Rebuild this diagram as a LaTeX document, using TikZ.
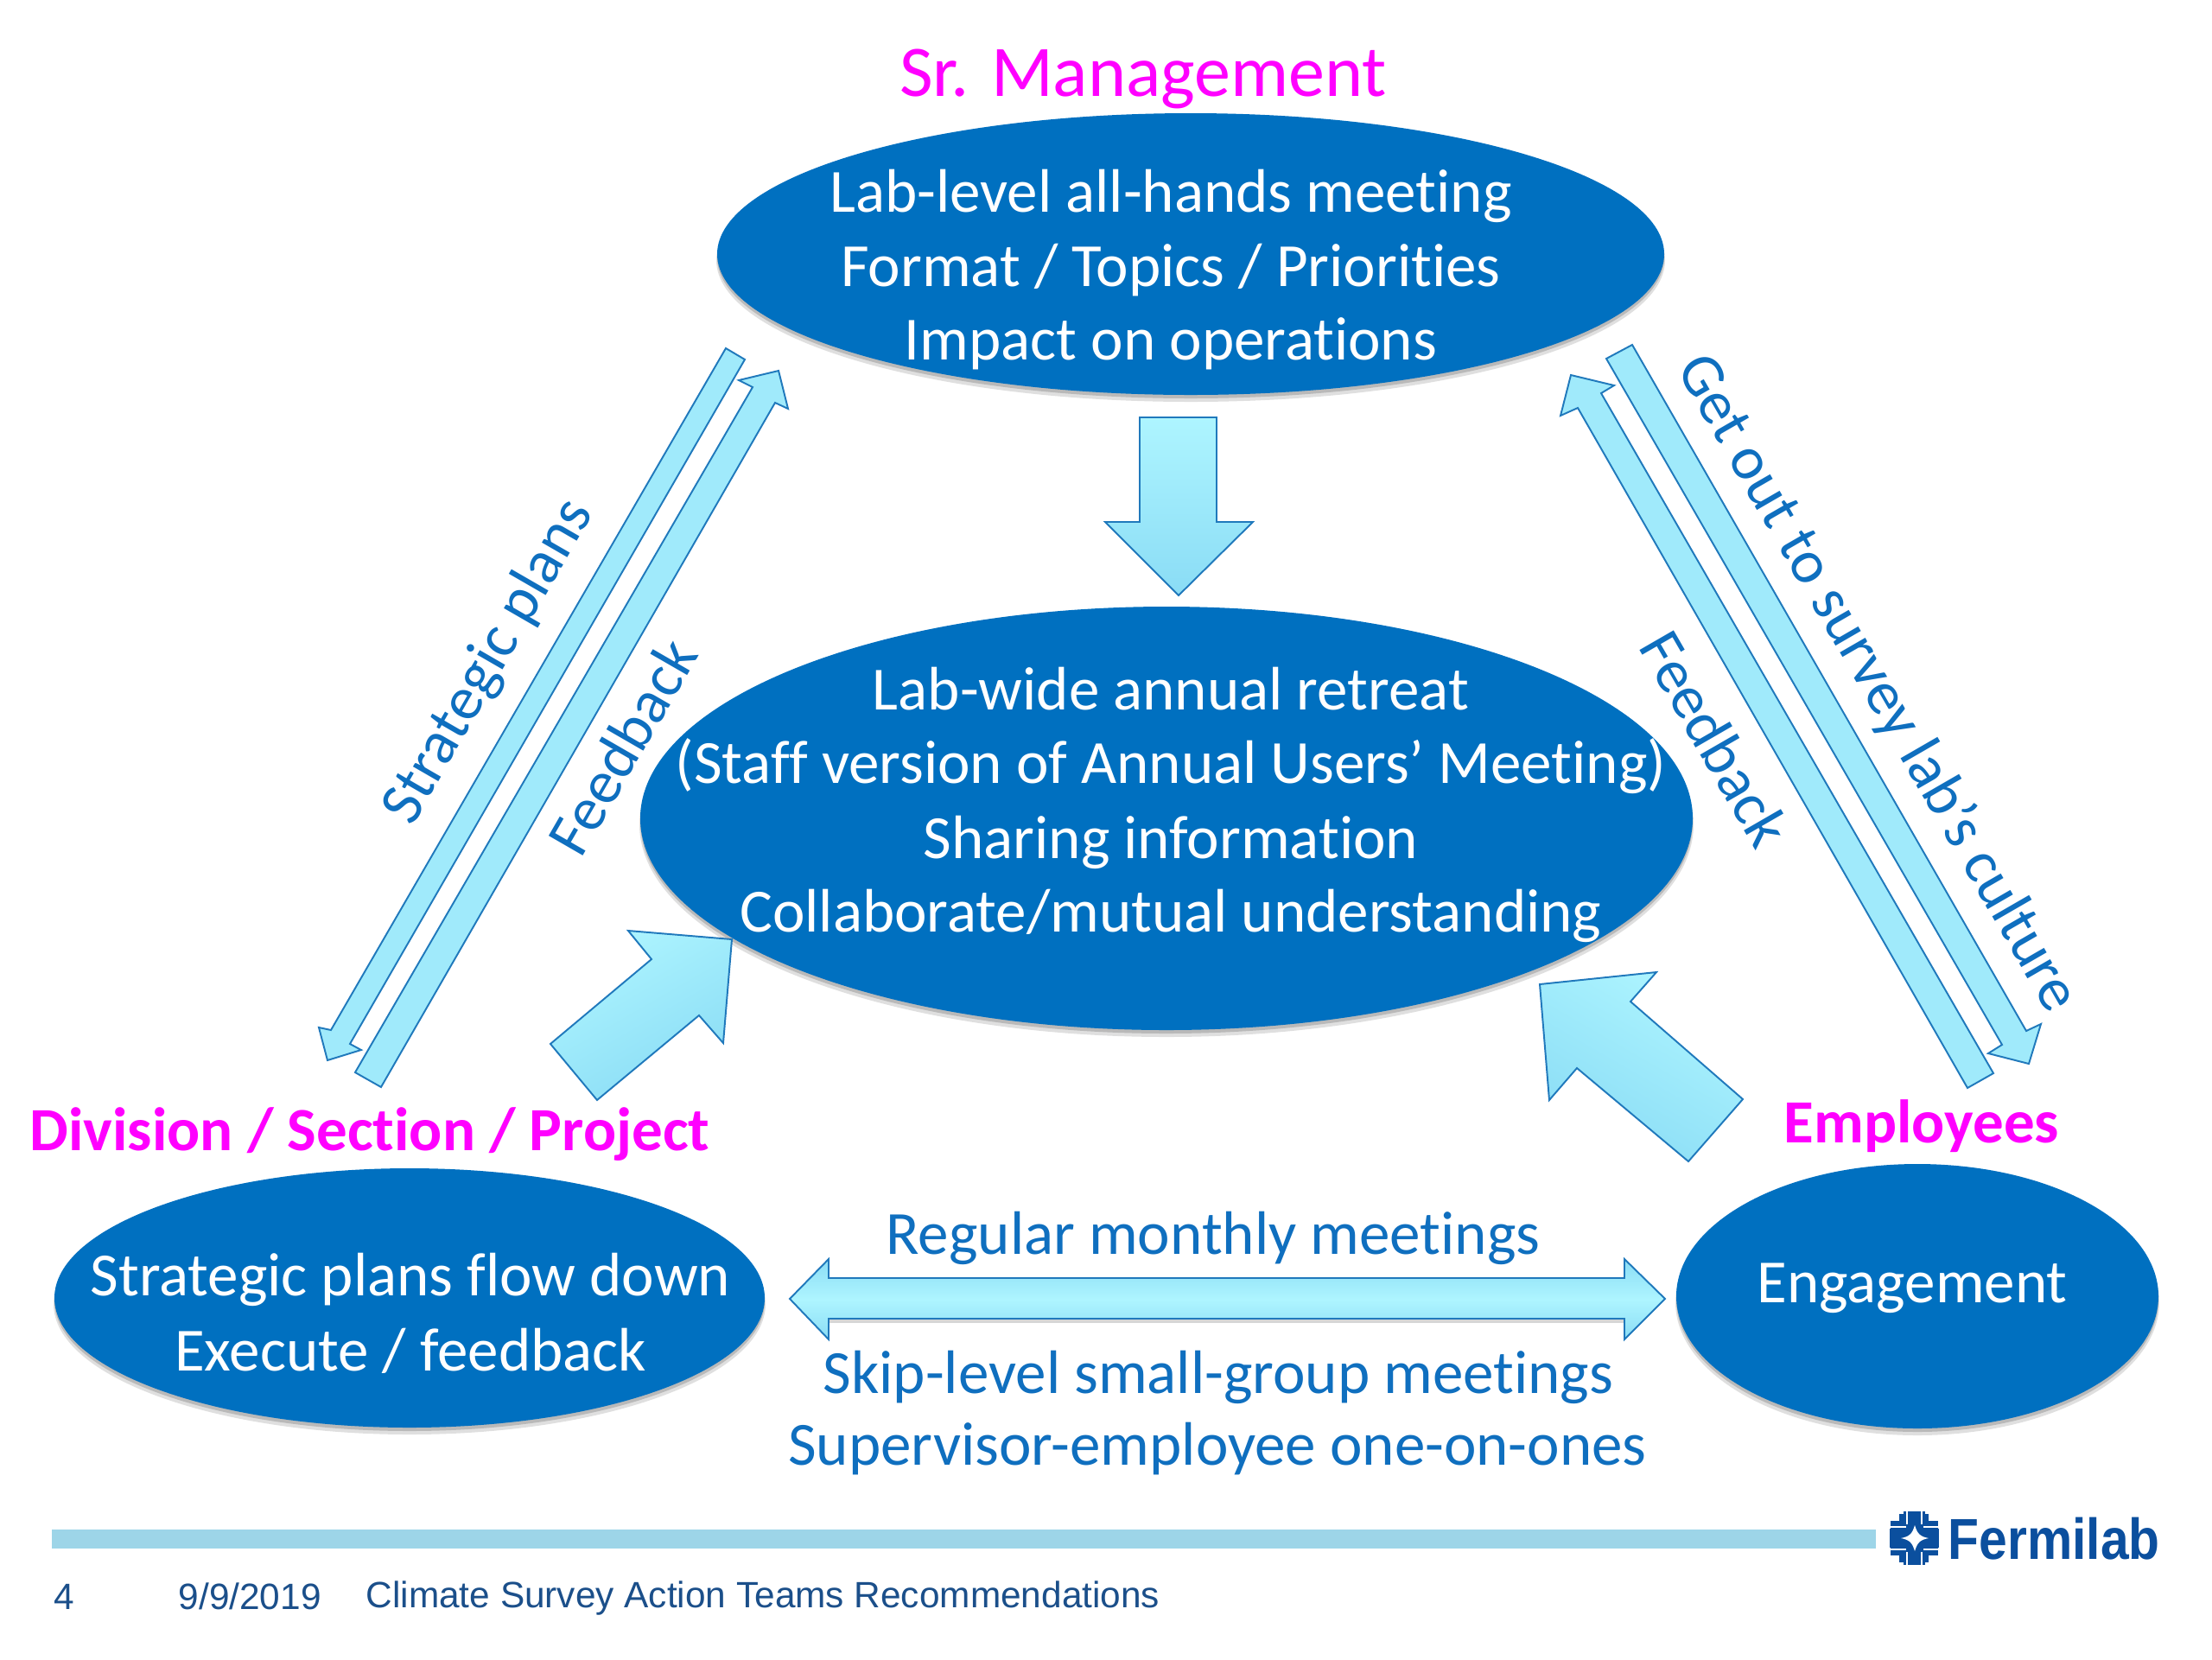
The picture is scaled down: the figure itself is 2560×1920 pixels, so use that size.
\documentclass[tikz,border=0pt]{standalone}
\usepackage{fontspec}
\setmainfont{Carlito}[Ligatures=NoCommon]
\newfontfamily\arialfont{Liberation Sans}
\definecolor{ellblue}{HTML}{0070C0}
\definecolor{txtblue}{HTML}{0F6FBF}
\definecolor{arrline}{HTML}{2079BC}
\definecolor{arrlight}{HTML}{AEF5FF}
\definecolor{arrdark}{HTML}{8ADCF5}
\definecolor{arrmid}{HTML}{A0EAFB}
\definecolor{barblue}{HTML}{9DD5E8}
\definecolor{logoblue}{HTML}{0B4F9E}
\definecolor{foottxt}{HTML}{1B4F8A}
\definecolor{mag}{RGB}{255,0,255}
\tikzset{
 ell/.style={inner sep=0pt,anchor=base,text=white,font=\fontsize{20.2}{24.4}\selectfont},
 bluelab/.style={text=txtblue,inner sep=0pt,font=\fontsize{20.2}{24.4}\selectfont},
 magbold/.style={text=mag,inner sep=0pt,anchor=base,font=\fontsize{20.2}{24.4}\selectfont\bfseries},
 thinarr/.style={draw=arrline,line width=0.55pt,line join=miter,fill=arrmid},
 block/.style={draw=arrline,line width=0.55pt,line join=miter,top color=arrlight,bottom color=arrdark},
 foot/.style={text=foottxt,inner sep=0pt,anchor=base west,font=\arialfont\fontsize{12.05}{15}\selectfont},
}
\newcommand{\shadowell}[4]{%
 \fill[black!35,opacity=.35] (#1,#2+7) ellipse [x radius=#3+1,y radius=#4+1];
 \fill[black!45,opacity=.45] (#1,#2+4) ellipse [x radius=#3,y radius=#4];
 \fill[ellblue] (#1,#2) ellipse [x radius=#3,y radius=#4];}
\begin{document}
\begin{tikzpicture}[x=0.01cm,y=-0.01cm]
\useasboundingbox (0,0) rectangle (2560,1920);
\fill[white] (0,0) rectangle (2560,1920);
% ellipses
\shadowell{1378}{294}{548}{163}
\shadowell{1350}{947}{609}{245}
\shadowell{474}{1502}{411}{150}
\shadowell{2219}{1500}{279}{153}
% ellipse texts
\node[ell] (top1) at (1355,245) {Lab-level all-hands meeting};
\node[ell] (top2) at (1355,331) {Format / Topics / Priorities};
\node[ell] (top3) at (1355,416) {Impact on operations};
\node[ell] (mid1) at (1355,821) {Lab-wide annual retreat};
\node[ell] (mid2) at (1355,906) {(Staff version of Annual Users’ Meeting)};
\node[ell] (mid3) at (1355,993) {Sharing information};
\node[ell] (mid4) at (1355,1078) {Collaborate/mutual understanding};
\node[ell] (lft1) at (475,1499) {Strategic plans flow down};
\node[ell] (lft2) at (475,1586) {Execute / feedback};
\node[ell] (rgt1) at (2213,1507) {Engagement};
% titles
\node[text=mag,inner sep=0pt,anchor=base,font=\fontsize{23.9}{29}\selectfont] (srm) at (1323,111) {Sr. Management};
\node[magbold] (div) at (428,1331) {Division / Section / Project};
\node[magbold] (emp) at (2224,1322) {Employees};
% thin arrows
\draw[thinarr] (840,403) -- (862,416) -- (405,1208) -- (418,1215) -- (379,1227) -- (369,1189) -- (383,1192) -- cycle;
\draw[thinarr] (411,1241) -- (441,1258) -- (897,466) -- (912,473) -- (901,429) -- (855,440) -- (871,448) -- cycle;
\draw[thinarr] (1859,415) -- (1889,399) -- (2345,1193) -- (2362,1185) -- (2348,1231) -- (2301,1219) -- (2317,1209) -- cycle;
\draw[thinarr] (2277,1259) -- (2307,1242) -- (1853,455) -- (1868,446) -- (1818,434) -- (1806,481) -- (1826,472) -- cycle;
% block arrows
\draw[block] (1319,483) -- (1408,483) -- (1408,604) -- (1450,604) -- (1364,689) -- (1279,604) -- (1319,604) -- cycle;
\draw[block,shading angle=30] (637,1208) -- (754,1110) -- (727,1077) -- (847,1087) -- (837,1207) -- (809,1175) -- (691,1273) -- cycle;
\draw[block,shading angle=-30] (2017,1272) -- (1887,1159) -- (1917,1125) -- (1782,1139) -- (1793,1273) -- (1825,1236) -- (1954,1344) -- cycle;
\fill[black!40,opacity=.4] (959,1527) rectangle (1880,1531);
\draw[draw=arrline,line width=0.55pt,line join=miter,top color=arrdark,bottom color=arrdark,middle color=arrlight] (914,1503) -- (959,1457) -- (959,1479) -- (1880,1479) -- (1880,1457) -- (1927,1503) -- (1880,1550) -- (1880,1526) -- (959,1526) -- (959,1550) -- cycle;
% labels
\node[bluelab,rotate=60] (lsp) at (566,766) {Strategic plans};
\node[bluelab,rotate=60] (lfb) at (720,864) {Feedback};
\node[bluelab,rotate=-60] (rgo) at (2172,791) {Get out to survey lab’s culture};
\node[bluelab,rotate=-60] (rfb) at (1985,855) {Feedback};
\node[bluelab,anchor=base] (reg) at (1404,1451) {Regular monthly meetings};
\node[bluelab,anchor=base] (skp) at (1410,1612) {Skip-level small-group meetings};
\node[bluelab,anchor=base] (sup) at (1409,1695) {Supervisor-employee one-on-ones};
% footer
\fill[barblue] (60,1770) rectangle (2171,1792);
\node[foot] (f1) at (62,1862) {4};
\node[foot] (f2) at (206,1862) {9/9/2019};
\node[foot] (f3) at (423,1860) {Climate Survey Action Teams Recommendations};
% logo
\begin{scope}[logoblue]
 \fill (2198,1752) rectangle (2232,1808);
 \fill (2188,1760) rectangle (2243,1800);
 \fill (2187,1769) rectangle (2244,1791);
 \fill (2203,1749) rectangle (2228,1811);
\end{scope}
\fill[white] (2216,1765) .. controls (2219,1775) and (2222,1778) .. (2232,1780) .. controls (2222,1782) and (2219,1785) .. (2216,1795) .. controls (2213,1785) and (2210,1782) .. (2200,1780) .. controls (2210,1778) and (2213,1775) .. (2216,1765) -- cycle;
\draw[white,line width=.5pt] (2187,1767) -- (2206,1767) (2187,1793) -- (2206,1793) (2226,1767) -- (2244,1767) (2226,1793) -- (2244,1793) (2207,1749) -- (2207,1764) (2224,1749) -- (2224,1764) (2207,1796) -- (2207,1811) (2224,1796) -- (2224,1811);
\node[inner sep=0pt,anchor=base west,text=logoblue,font=\arialfont\bfseries\fontsize{19}{23}\selectfont,xscale=.88] (logo) at (2254,1804) {Fermilab};
\end{tikzpicture}
\end{document}
